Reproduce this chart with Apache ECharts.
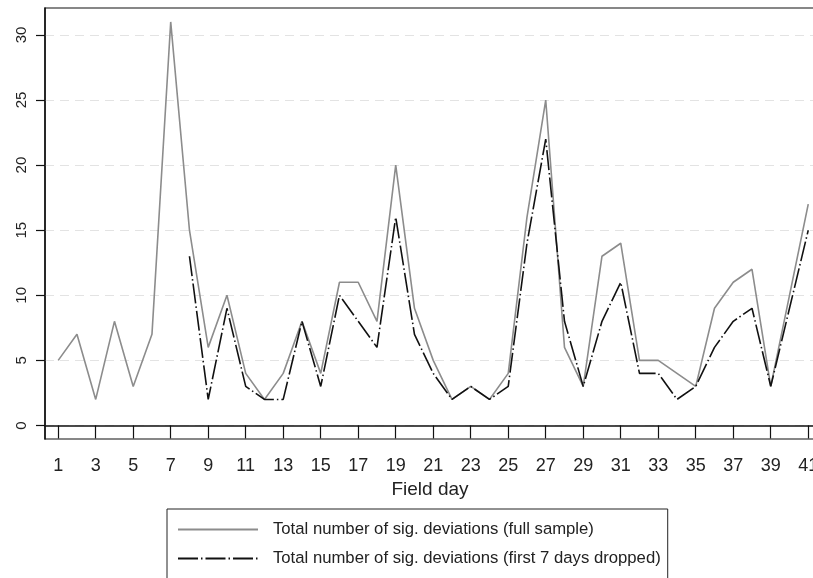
<!DOCTYPE html>
<html>
<head>
<meta charset="utf-8">
<script src="https://cdn.jsdelivr.net/npm/echarts@6/dist/echarts.min.js"></script>
<style>
html,body{margin:0;padding:0;background:#fff;}
#chart{width:813px;height:578px;}
</style>
</head>
<body>
<div id="chart"></div>
<script>
const days = [1,2,3,4,5,6,7,8,9,10,11,12,13,14,15,16,17,18,19,20,21,22,23,24,25,26,27,28,29,30,31,32,33,34,35,36,37,38,39,40,41];
const fullSample = [5,7,2,8,3,7,31,15,6,10,4,2,4,8,4,11,11,8,20,9,5,2,3,2,4,16,25,6,3,13,14,5,5,4,3,9,11,12,3,10,17];
const droppedSample = [null,null,null,null,null,null,null,13,2,9,3,2,2,8,3,10,8,6,16,7,4,2,3,2,3,14,22,8,3,8,11,4,4,2,3,6,8,9,3,9,15];
const xTickValues = [1,3,5,7,9,11,13,15,17,19,21,23,25,27,29,31,33,35,37,39,41];
const yTickValues = [0,5,10,15,20,25,30];
const seriesNames = ['Total number of sig. deviations (full sample)', 'Total number of sig. deviations (first 7 days dropped)'];

const fullData = days.map((d, i) => [d, fullSample[i]]);
const droppedData = days.map((d, i) => [d, droppedSample[i]]);

const chart = echarts.init(document.getElementById('chart'), null, {renderer: 'canvas'});
const FONT = 'Liberation Sans, Arial, sans-serif';
chart.setOption({
  animation: false,
  backgroundColor: '#fff',
  textStyle: {fontFamily: FONT},
  grid: {left: 45, top: 8, right: -2, bottom: 139, show: true, borderColor: '#111', borderWidth: 1.2,
         backgroundColor: 'transparent', outerBoundsMode: 'none', containLabel: false},
  xAxis: {
    type: 'value', min: 0.296, max: 41.36,
    name: 'Field day', nameLocation: 'middle', nameGap: 36,
    nameTextStyle: {fontSize: 19, color: '#222', fontFamily: FONT},
    axisLine: {show: true, lineStyle: {color: '#111', width: 1.5}},
    axisTick: {show: true, length: 13, customValues: xTickValues, lineStyle: {color: '#111', width: 1.2}},
    axisLabel: {customValues: xTickValues, fontSize: 18, color: '#222', margin: 18, fontFamily: FONT, hideOverlap: false},
    splitLine: {show: false}
  },
  yAxis: {
    type: 'value', min: -1.04, max: 32.07,
    axisLine: {show: true, lineStyle: {color: '#111', width: 1.5}},
    axisTick: {show: true, length: 9, customValues: yTickValues, lineStyle: {color: '#111', width: 1.2}},
    axisLabel: {customValues: yTickValues, fontSize: 15, color: '#222', rotate: 90, margin: 16, fontFamily: FONT},
    splitLine: {show: true, customValues: yTickValues, lineStyle: {color: '#e3e3e3', width: 1, type: [9, 6]}}
  },
  legend: {
    orient: 'vertical', left: 167, bottom: -9,
    padding: [12, 7, 20, 10],
    itemWidth: 80, itemHeight: 14, itemGap: 12,
    borderColor: '#222', borderWidth: 1, backgroundColor: '#fff',
    itemStyle: {opacity: 0, borderWidth: 0},
    textStyle: {fontSize: 16.7, color: '#222', fontFamily: FONT, padding: [0, 0, 0, 10]},
    data: seriesNames
  },
  series: [
    {
      name: seriesNames[0], type: 'line', data: fullData, symbol: 'none',
      lineStyle: {color: '#8c8c8c', width: 1.6, type: 'solid'},
      itemStyle: {color: '#8c8c8c'}
    },
    {
      name: seriesNames[1], type: 'line', data: droppedData, symbol: 'none', connectNulls: false,
      lineStyle: {color: '#111', width: 1.6, type: [20, 3, 1.5, 3]},
      itemStyle: {color: '#111'}
    }
  ]
});
</script>
</body>
</html>
